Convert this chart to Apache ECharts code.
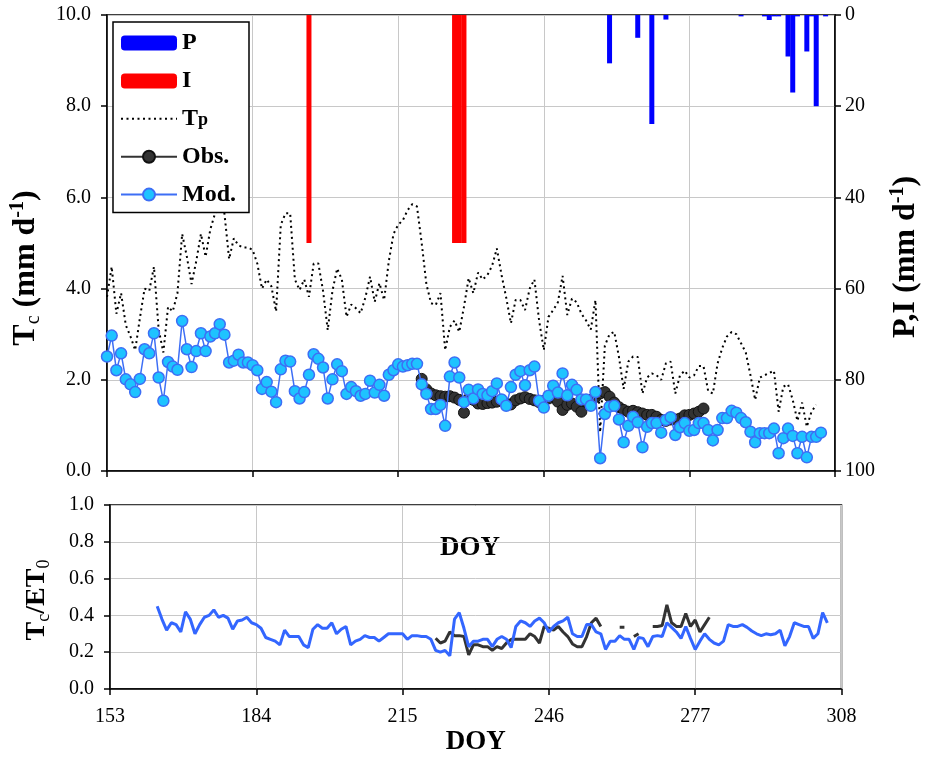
<!DOCTYPE html>
<html><head><meta charset="utf-8">
<script src="https://cdn.jsdelivr.net/npm/echarts@6/dist/echarts.min.js"></script>
<style>html,body{margin:0;padding:0;background:#fff}#c{width:930px;height:757px}</style>
</head><body><div id="c"></div>
<script>
// ---------- DATA ----------
const DAY0 = 153;                         // first DOY on the x axis
const xTickLabels = [153, 184, 215, 246, 277, 308];
const tcTickLabels = ['0.0', '2.0', '4.0', '6.0', '8.0', '10.0'];
const piTickLabels = ['0', '20', '40', '60', '80', '100'];
const ratioTickLabels = ['0.0', '0.2', '0.4', '0.6', '0.8', '1.0'];

// modelled transpiration Tc (mm/d), daily from DOY 153
const modStart = 153;
const modTc = [
  2.51, 2.97, 2.21, 2.58, 2.01, 1.90, 1.73, 2.02, 2.67, 2.58,
  3.02, 2.05, 1.54, 2.39, 2.29, 2.22, 3.29, 2.67, 2.28, 2.63,
  3.02, 2.63, 2.95, 3.02, 3.22, 2.99, 2.38, 2.42, 2.55, 2.38,
  2.38, 2.32, 2.21, 1.80, 1.95, 1.74, 1.51, 2.23, 2.42, 2.40,
  1.75, 1.59, 1.73, 2.11, 2.56, 2.46, 2.27, 1.59, 2.01, 2.34,
  2.19, 1.69, 1.84, 1.75, 1.65, 1.69, 1.98, 1.72, 1.89, 1.65,
  2.11, 2.21, 2.34, 2.29, 2.32, 2.35, 2.35, 1.90, 1.69, 1.36,
  1.36, 1.45, 0.99, 2.07, 2.38, 2.05, 1.51, 1.78, 1.59, 1.79,
  1.69, 1.66, 1.75, 1.92, 1.57, 1.43, 1.84, 2.11, 2.19, 1.88,
  2.21, 2.29, 1.54, 1.39, 1.65, 1.87, 1.72, 2.14, 1.66, 1.89,
  1.78, 1.57, 1.57, 1.43, 1.73, 0.28, 1.25, 1.41, 1.43, 1.13,
  0.63, 0.99, 1.19, 1.07, 0.52, 0.97, 1.05, 1.05, 0.84, 1.12,
  1.18, 0.79, 0.96, 1.05, 0.88, 0.90, 1.05, 1.05, 0.90, 0.67,
  0.90, 1.16, 1.16, 1.32, 1.28, 1.16, 1.07, 0.86, 0.63, 0.83,
  0.83, 0.83, 0.93, 0.39, 0.72, 0.93, 0.77, 0.39, 0.75, 0.30,
  0.75, 0.75, 0.84
];

// observed transpiration Tc (mm/d), daily from DOY 220
const obsStart = 220;
const obsTc = [
  2.02, 1.79, 1.70, 1.66, 1.64, 1.63, 1.64, 1.61, 1.56, 1.28,
  1.59, 1.56, 1.48, 1.47, 1.49, 1.50, 1.52, 1.55, 1.48, 1.46,
  1.55, 1.59, 1.62, 1.58, 1.55, 1.51, 1.54, 1.59, 1.64, 1.52,
  1.34, 1.45, 1.48, 1.41, 1.30, 1.52, 1.56, 1.62, 1.70, 1.73,
  1.63, 1.50, 1.40, 1.34, 1.30, 1.32, 1.29, 1.26, 1.23, 1.23,
  1.19, 1.12, 1.10, 1.13, 1.13, 1.15, 1.22, 1.23, 1.26, 1.30,
  1.37
];

// potential transpiration Tp (mm/d), daily from DOY 153
const tpStart = 153;
const tpVals = [
  3.82, 4.48, 3.45, 3.90, 3.20, 2.95, 2.65, 3.35, 4.00, 3.95,
  4.48, 3.10, 2.60, 3.60, 3.50, 3.90, 5.20, 4.70, 4.10, 4.60,
  5.20, 4.70, 5.30, 5.65, 5.75, 5.65, 4.65, 5.10, 4.95, 4.90,
  4.90, 4.85, 4.55, 4.00, 4.20, 4.05, 3.50, 5.40, 5.65, 5.65,
  4.20, 3.97, 4.20, 3.82, 4.55, 4.55, 3.95, 3.09, 3.95, 4.44,
  4.20, 3.38, 3.65, 3.57, 3.46, 3.80, 4.26, 3.71, 4.12, 3.75,
  4.60, 5.20, 5.40, 5.50, 5.72, 5.85, 5.80, 5.00, 4.10, 3.68,
  3.64, 3.90, 2.65, 3.16, 3.30, 3.05, 3.60, 4.23, 3.90, 4.35,
  4.20, 4.30, 4.50, 4.88, 4.30, 3.80, 3.24, 3.75, 3.75, 3.53,
  4.00, 4.20, 3.30, 2.65, 3.38, 3.53, 3.70, 4.28, 3.42, 3.78,
  3.70, 3.45, 3.30, 3.10, 3.75, 0.85, 2.75, 3.00, 3.05, 2.50,
  1.80, 2.40, 2.51, 2.50, 1.70, 2.05, 2.14, 2.10, 2.00, 2.36,
  2.40, 1.70, 2.10, 2.20, 2.05, 2.10, 2.30, 2.30, 1.75, 1.70,
  2.36, 2.70, 2.95, 3.05, 3.00, 2.80, 2.60, 2.10, 1.56, 2.05,
  2.10, 2.15, 2.20, 1.30, 1.85, 1.90, 1.56, 1.10, 1.50, 0.97,
  1.30, 1.45
];

// precipitation P and irrigation I (mm/d)
const pDays = [260, 266, 269, 272, 288, 293, 294, 295, 296, 298, 299, 300, 302, 303, 304, 306];
const pVals = [10.6, 5.0, 23.9, 1.0, 0.3, 0.3, 1.1, 0.3, 0.3, 9.1, 17.0, 0.3, 8.0, 0.3, 20.0, 0.3];
const iDays = [196, 227, 228, 229];
const iVals = [50, 50, 50, 50];

// Tc/ET0 ratios
const ratioModStart = 163;
const ratioMod = [
  0.45, 0.38, 0.32, 0.36, 0.35, 0.31, 0.42, 0.38, 0.30, 0.35,
  0.39, 0.40, 0.43, 0.39, 0.40, 0.385, 0.325, 0.37, 0.375, 0.39,
  0.36, 0.35, 0.33, 0.28, 0.27, 0.26, 0.24, 0.32, 0.285, 0.285,
  0.285, 0.24, 0.225, 0.325, 0.35, 0.33, 0.33, 0.36, 0.30, 0.325,
  0.34, 0.24, 0.26, 0.27, 0.29, 0.28, 0.28, 0.26, 0.28, 0.30,
  0.30, 0.30, 0.30, 0.27, 0.29, 0.29, 0.285, 0.285, 0.27, 0.21,
  0.20, 0.21, 0.18, 0.38, 0.415, 0.33, 0.23, 0.26, 0.26, 0.27,
  0.27, 0.23, 0.27, 0.285, 0.27, 0.225, 0.34, 0.37, 0.36, 0.34,
  0.37, 0.385, 0.36, 0.31, 0.34, 0.36, 0.37, 0.39, 0.30, 0.285,
  0.285, 0.35, 0.35, 0.31, 0.30, 0.215, 0.26, 0.26, 0.29, 0.27,
  0.27, 0.215, 0.28, 0.275, 0.23, 0.285, 0.29, 0.285, 0.36, 0.335,
  0.31, 0.275, 0.34, 0.275, 0.215, 0.26, 0.30, 0.27, 0.25, 0.24,
  0.26, 0.35, 0.34, 0.34, 0.35, 0.335, 0.315, 0.30, 0.29, 0.30,
  0.295, 0.30, 0.32, 0.235, 0.285, 0.36, 0.35, 0.34, 0.34, 0.275,
  0.30, 0.415, 0.36
];
const ratioObsStart = 222;
const ratioObs = [
  0.276, 0.25, 0.26, 0.31, 0.29, 0.29, 0.285, 0.185, 0.24, 0.24,
  0.23, 0.23, 0.21, 0.23, 0.22, 0.25, 0.27, 0.27, 0.27, 0.27,
  0.30, 0.285, 0.25, 0.34, 0.33, 0.32, 0.34, 0.31, 0.285, 0.245,
  0.23, 0.23, 0.285, 0.36, 0.385, 0.34, null, null, null, 0.335,
  0.335, null, 0.285, 0.30, null, null, 0.34, 0.34, 0.345, 0.457,
  0.36, 0.34, 0.34, 0.41, 0.34, 0.375, 0.31, 0.35, 0.39
];

// ---------- HELPERS ----------
const daily = (start, arr) => arr.map((v, i) => [start + i - DAY0, v]);
const paired = (days, vals) => days.map((d, i) => [d - DAY0, vals[i]]);
const SERIF = 'Liberation Serif';
const tickIdx = (v, step) => Math.round(v / step);

const chart = echarts.init(document.getElementById('c'), null, { renderer: 'canvas' });

const axisLine = { show: true, lineStyle: { color: '#000', width: 1.5 } };
const axisTick = { show: true, length: 6, lineStyle: { color: '#000', width: 1.5 } };
const split = { show: true, lineStyle: { color: '#c8c8c8', width: 1 } };
const lbl = { color: '#000', fontFamily: SERIF, fontSize: 20 };

const titleRich = {
  b: { fontFamily: SERIF, fontSize: 32, fontWeight: 'bold', lineHeight: 36, fill: '#000' },
  s: { fontFamily: SERIF, fontSize: 20, fontWeight: 'normal', lineHeight: 20, verticalAlign: 'bottom', fill: '#000' },
  sup: { fontFamily: SERIF, fontSize: 20, fontWeight: 'bold', lineHeight: 20, verticalAlign: 'top', fill: '#000' }
};

const option = {
  animation: false,
  backgroundColor: '#fff',
  grid: [
    { left: 107, top: 15, width: 728, height: 456, show: true, borderColor: '#000', borderWidth: 1.5, backgroundColor: 'transparent' },
    { left: 110, top: 505, width: 731.5, height: 184, show: true, borderColor: '#000', borderWidth: 1.5, backgroundColor: 'transparent' }
  ],
  legend: {
    orient: 'vertical', left: 113, top: 22,
    padding: [9, 13, 6, 7],
    backgroundColor: '#fff', borderColor: '#000', borderWidth: 1.5,
    itemWidth: 56, itemHeight: 15, itemGap: 13.9,
    data: [
      { name: 'P', icon: 'roundRect' },
      { name: 'I', icon: 'roundRect' },
      { name: 'Tp', itemStyle: { color: 'rgba(0,0,0,0)', borderWidth: 0 } },
      { name: 'Obs.' },
      { name: 'Mod.' }
    ],
    formatter: n => n === 'Tp' ? '{b|T}{sub|p}' : '{b|' + n + '}',
    textStyle: {
      color: '#000', fontFamily: SERIF, fontSize: 24, fontWeight: 'bold', lineHeight: 22,
      rich: {
        b: { fontFamily: SERIF, fontSize: 24, fontWeight: 'bold', lineHeight: 22, color: '#000' },
        sub: { fontFamily: SERIF, fontSize: 18, fontWeight: 'bold', lineHeight: 5, verticalAlign: 'bottom', color: '#000' }
      }
    }
  },
  xAxis: [
    { gridIndex: 0, type: 'value', min: 0, max: 155, interval: 31,
      axisLine, axisTick, splitLine: split, axisLabel: { show: false } },
    { gridIndex: 1, type: 'value', min: 0, max: 155, interval: 31,
      axisLine, axisTick, splitLine: split,
      axisLabel: Object.assign({}, lbl, { margin: 18, formatter: v => String(xTickLabels[tickIdx(v, 31)]) }),
      name: 'DOY', nameLocation: 'middle', nameGap: 40,
      nameTextStyle: { color: '#000', fontFamily: SERIF, fontSize: 27, fontWeight: 'bold' } }
  ],
  yAxis: [
    { gridIndex: 0, type: 'value', min: 0, max: 10, interval: 2,
      axisLine, axisTick, splitLine: split,
      axisLabel: Object.assign({}, lbl, { margin: 16, formatter: v => tcTickLabels[tickIdx(v, 2)] }) },
    { gridIndex: 0, type: 'value', position: 'right', min: 0, max: 100, interval: 20, inverse: true,
      axisLine, axisTick, splitLine: { show: false },
      axisLabel: Object.assign({}, lbl, { margin: 10, formatter: v => piTickLabels[tickIdx(v, 20)] }) },
    { gridIndex: 1, type: 'value', min: 0, max: 1, interval: 0.2,
      axisLine, axisTick, splitLine: split,
      axisLabel: Object.assign({}, lbl, { margin: 16, formatter: v => ratioTickLabels[tickIdx(v, 0.2)] }) }
  ],
  graphic: [
    { type: 'text', x: 26, y: 268, rotation: Math.PI / 2,
      style: { text: '{b|T}{s|c}{b| (mm d}{sup|-1}{b|)}', rich: titleRich, align: 'center', verticalAlign: 'middle' } },
    { type: 'text', x: 906, y: 257, rotation: Math.PI / 2,
      style: { text: '{b|P,I (mm d}{sup|-1}{b|)}', rich: titleRich, align: 'center', verticalAlign: 'middle' } },
    { type: 'text', x: 37, y: 600, rotation: Math.PI / 2,
      style: { text: '{b|T}{s|c}{b|/ET}{s|0}', rich: {
        b: { fontFamily: SERIF, fontSize: 28, fontWeight: 'bold', lineHeight: 32, fill: '#000' },
        s: { fontFamily: SERIF, fontSize: 18, fontWeight: 'normal', lineHeight: 18, verticalAlign: 'bottom', fill: '#000' }
      }, align: 'center', verticalAlign: 'middle' } },
    { type: 'text', x: 470, y: 548,
      style: { text: 'DOY', fontFamily: SERIF, fontSize: 27, fontWeight: 'bold', fill: '#000', align: 'center', verticalAlign: 'middle' } }
  ],
  series: [
    { name: 'P', type: 'bar', xAxisIndex: 0, yAxisIndex: 1, data: paired(pDays, pVals),
      barWidth: 5, barGap: '-100%', itemStyle: { color: '#0000ff' }, z: 3 },
    { name: 'I', type: 'bar', xAxisIndex: 0, yAxisIndex: 1, data: paired(iDays, iVals),
      barWidth: 5, barGap: '-100%', itemStyle: { color: '#ff0000' }, z: 3 },
    { name: 'Tp', type: 'line', xAxisIndex: 0, yAxisIndex: 0, data: daily(tpStart, tpVals),
      symbol: 'none', lineStyle: { color: '#000', width: 2, type: [2, 3.5] }, z: 2 },
    { name: 'Obs.', type: 'line', xAxisIndex: 0, yAxisIndex: 0, data: daily(obsStart, obsTc),
      symbol: 'circle', symbolSize: 11, showSymbol: true,
      itemStyle: { color: '#333333', borderColor: '#111', borderWidth: 1 },
      lineStyle: { color: '#333333', width: 1.5 }, z: 4 },
    { name: 'Mod.', type: 'line', xAxisIndex: 0, yAxisIndex: 0, data: daily(modStart, modTc),
      symbol: 'circle', symbolSize: 11, showSymbol: true,
      itemStyle: { color: '#1ec3ff', borderColor: '#3d6ef5', borderWidth: 1.5 },
      lineStyle: { color: '#3d6ef5', width: 1.5 }, z: 5 },
    { name: 'Obs. Tc/ET0', type: 'line', xAxisIndex: 1, yAxisIndex: 2, data: daily(ratioObsStart, ratioObs),
      symbol: 'none', connectNulls: false, lineStyle: { color: '#333333', width: 3 }, z: 3 },
    { name: 'Mod. Tc/ET0', type: 'line', xAxisIndex: 1, yAxisIndex: 2, data: daily(ratioModStart, ratioMod),
      symbol: 'none', lineStyle: { color: '#3366ff', width: 3 }, z: 4 }
  ]
};
chart.setOption(option);
</script>
</body></html>
